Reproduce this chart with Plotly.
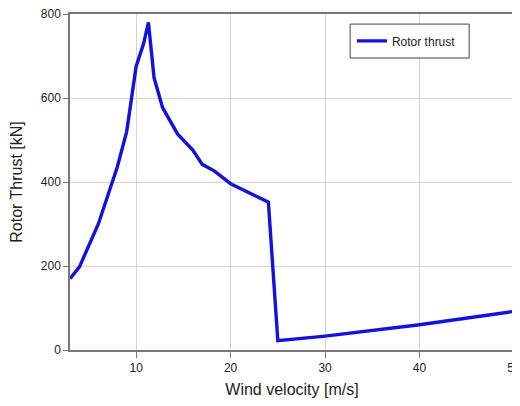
import plotly.graph_objects as go

wind_speed = [3, 4, 6, 8, 9, 9.5, 10, 10.8, 11.3, 11.9, 12.8, 14.4, 16, 17, 18.3, 20, 22, 24, 25, 30, 40, 50]
rotor_thrust = [170, 198, 300, 435, 520, 595, 675, 730, 780, 648, 577, 514, 476, 442, 426, 396, 375, 352, 22, 33, 60, 92]
x_ticks = [10, 20, 30, 40, 50]
y_ticks = [0, 200, 400, 600, 800]

fig = go.Figure()
fig.add_trace(go.Scatter(
    x=wind_speed, y=rotor_thrust, mode="lines", name="Rotor thrust",
    line=dict(color="#1212dc", width=3.4),
))

axis_common = dict(
    showline=True, linecolor="#777", linewidth=1.5, mirror=True,
    showgrid=True, gridcolor="#d4d4d4", gridwidth=1,
    ticks="outside", tickcolor="#777",
    zeroline=False, automargin=False, ticklabeloverflow="allow",
    tickfont=dict(family="Liberation Sans, Arial, sans-serif", size=12, color="#222"),
)

fig.update_layout(
    width=512, height=390,
    margin=dict(l=62, r=6, t=6, b=48),
    paper_bgcolor="white", plot_bgcolor="white",
    font=dict(family="Liberation Sans, Arial, sans-serif", size=13, color="#222"),
    xaxis=dict(range=[3, 50], tickvals=x_ticks, ticklen=6,
               title=dict(text="Wind velocity [m/s]", standoff=10), **axis_common),
    yaxis=dict(range=[0, 800], tickvals=y_ticks, ticklen=5,
               title=dict(text="Rotor Thrust [kN]", standoff=22), **axis_common),
    showlegend=True,
    legend=dict(x=0.635, y=0.92, xanchor="left", yanchor="middle",
                borderwidth=0, bgcolor="rgba(0,0,0,0)",
                font=dict(size=12)),
    shapes=[dict(type="rect", xref="paper", yref="paper",
                 x0=0.631, x1=0.899, y0=0.869, y1=0.970,
                 line=dict(color="#444", width=1), fillcolor="white", layer="above")],
)

fig.write_html("out.html")
